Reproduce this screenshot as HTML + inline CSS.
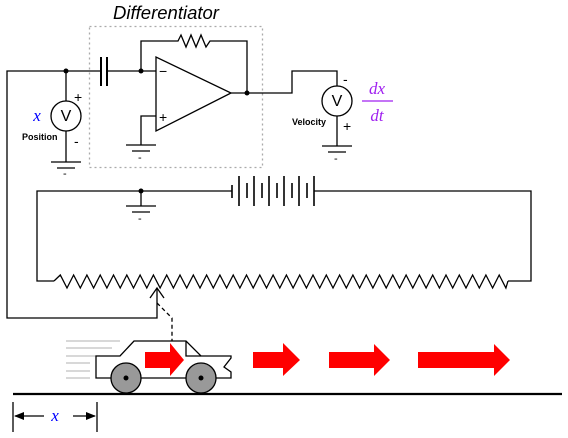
<!DOCTYPE html>
<html><head><style>body{margin:0;background:#fff}svg{display:block}</style></head><body>
<svg width="568" height="438" viewBox="0 0 568 438" xmlns="http://www.w3.org/2000/svg" font-family="Liberation Sans, sans-serif">
<g fill="none" stroke="#000" stroke-width="1.3">
<rect x="89.5" y="26.5" width="173" height="141" stroke="#aaa" stroke-dasharray="2,3"/>
<polyline points="101,71 7,71 7,318 157,318 157,288"/>
<polyline points="150,298 157,288 164,298"/>
<line x1="66" y1="71" x2="66" y2="101"/><line x1="66" y1="131" x2="66" y2="162"/>
<circle cx="66" cy="116" r="15"/>
<line x1="51" y1="162" x2="81" y2="162"/><line x1="57" y1="168" x2="75" y2="168"/>
<line x1="101" y1="57" x2="101" y2="86" stroke-width="2"/><line x1="107" y1="57" x2="107" y2="86" stroke-width="2"/>
<polyline points="107,71 156,71"/>
<polyline points="141,71 141,41 178,41 181,35 186,47 191,35 196,47 201,35 206,47 210,41 247,41 247,93"/>
<polygon points="156,57 156,131 231,93"/>
<polyline points="156,116 141,116 141,145"/>
<line x1="126" y1="145" x2="156" y2="145"/><line x1="132" y1="151" x2="150" y2="151"/>
<polyline points="231,93 292,93 292,71 337,71 337,86"/>
<circle cx="337" cy="101" r="15"/>
<line x1="337" y1="116" x2="337" y2="146"/>
<line x1="322" y1="146" x2="352" y2="146"/><line x1="328" y1="152" x2="346" y2="152"/>
<polyline points="232,191 37,191 37,281 54,281"/>
<line x1="141" y1="191" x2="141" y2="206"/>
<line x1="126" y1="206" x2="156" y2="206"/><line x1="132" y1="212" x2="150" y2="212"/>
<polyline points="314,191 531,191 531,281 508,281"/>
<g stroke-width="1.6">
<line x1="232" y1="185" x2="232" y2="198"/>
<line x1="239" y1="176" x2="239" y2="206"/><line x1="247" y1="183" x2="247" y2="198"/>
<line x1="254" y1="176" x2="254" y2="206"/><line x1="262" y1="183" x2="262" y2="198"/>
<line x1="269" y1="176" x2="269" y2="206"/><line x1="277" y1="183" x2="277" y2="198"/>
<line x1="284" y1="176" x2="284" y2="206"/><line x1="292" y1="183" x2="292" y2="198"/>
<line x1="299" y1="176" x2="299" y2="206"/><line x1="307" y1="183" x2="307" y2="198"/>
<line x1="314" y1="176" x2="314" y2="206"/>
</g>
<polyline id="zz" points=""/>
<polyline points="157,303 172,318 172,341" stroke-dasharray="4,3"/>
</g>
<g fill="#000">
<circle cx="66" cy="71" r="2.5"/><circle cx="141" cy="71" r="2.5"/><circle cx="247" cy="93" r="2.5"/><circle cx="141" cy="191" r="2.5"/>
</g>
<script>
var p="54,281";for(var i=0;i<34;i++){var x=57+i*13.3;p+=" "+(x+3.3)+",275 "+(x+10)+",288";}p+=" 508,281";document.getElementById('zz').setAttribute('points',p);
</script>
<g stroke="#ccc" stroke-width="1.5"><line x1="66" y1="341" x2="120" y2="341"/><line x1="66" y1="348" x2="112" y2="348"/><line x1="66" y1="356" x2="100" y2="356"/><line x1="66" y1="363" x2="90" y2="363"/><line x1="66" y1="371" x2="90" y2="371"/><line x1="66" y1="378" x2="90" y2="378"/></g>
<g fill="#fff" stroke="#000" stroke-width="1.3">
<polygon points="96,356 120,356 134,341 186,341 201,356 231,356 231,358 224,367 231,372 231,378 96,378"/>
<polyline points="186,341 186,356 201,356" fill="none"/>
</g>
<g fill="#999" stroke="#000" stroke-width="1.3"><circle cx="126" cy="378" r="15"/><circle cx="201" cy="378" r="15"/></g>
<circle cx="126" cy="378" r="2.5"/><circle cx="201" cy="378" r="2.5"/>
<g fill="#f00">
<polygon points="145,352 170,352 170,343 184,360 170,376 170,368 145,368"/>
<polygon points="253,352 283,352 283,343 300,360 283,376 283,368 253,368"/>
<polygon points="329,352 374,352 374,344 390,360 374,376 374,368 329,368"/>
<polygon points="418,352 494,352 494,344 510,360 494,376 494,368 418,368"/>
</g>
<line x1="13" y1="394" x2="562" y2="394" stroke="#000" stroke-width="2.2"/>
<g stroke="#000" stroke-width="1.3"><line x1="13" y1="402" x2="13" y2="432"/><line x1="97" y1="402" x2="97" y2="432"/><line x1="15" y1="416" x2="44" y2="416"/><line x1="73" y1="416" x2="95" y2="416"/></g>
<polygon points="14,416 24,412 24,420"/><polygon points="96,416 86,412 86,420"/>
<text x="166" y="19" font-size="18.5" font-style="italic" text-anchor="middle">Differentiator</text>
<g font-size="14"><text x="74" y="102">+</text><text x="74" y="146">-</text><text x="159" y="76">−</text><text x="159" y="122">+</text><text x="343" y="84">-</text><text x="343" y="131">+</text></g>
<g font-size="11"><text x="63" y="177">-</text><text x="138" y="161">-</text><text x="334" y="162">-</text><text x="138" y="222">-</text></g>
<text x="22" y="140" font-size="9" font-weight="bold">Position</text>
<text x="292" y="125" font-size="9" font-weight="bold">Velocity</text>
<g font-size="16" text-anchor="middle"><text x="66" y="121">V</text><text x="337" y="106">V</text></g>
<g font-family="Liberation Serif, serif" font-style="italic" font-size="17">
<text x="37" y="121" fill="#00f" text-anchor="middle">x</text>
<text x="55" y="421" fill="#00f" text-anchor="middle">x</text>
<text x="377" y="94" fill="#a020f0" text-anchor="middle">dx</text>
<text x="377" y="121" fill="#a020f0" text-anchor="middle">dt</text>
</g>
<line x1="362" y1="101" x2="393" y2="101" stroke="#a020f0" stroke-width="1.3"/>
</svg>
</body></html>
